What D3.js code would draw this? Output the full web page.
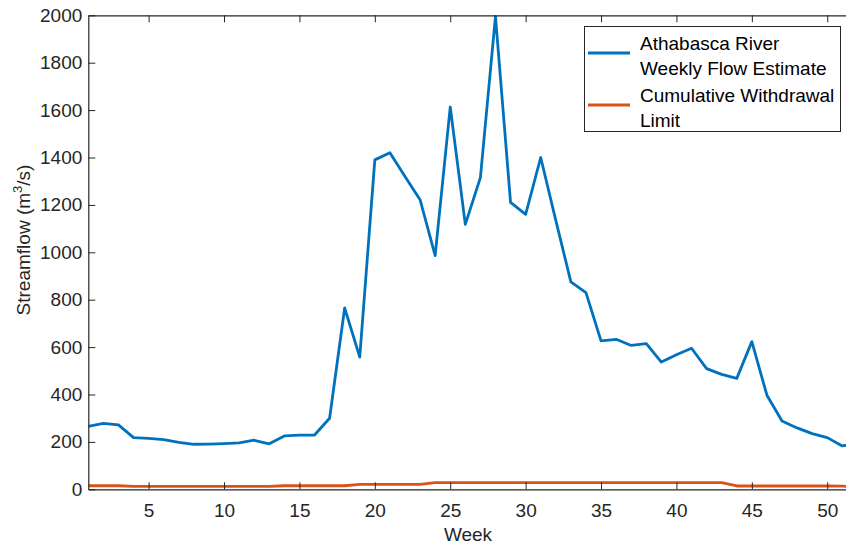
<!DOCTYPE html>
<html><head><meta charset="utf-8">
<script src="https://cdn.jsdelivr.net/npm/d3@7"></script>
<style>body{margin:0;background:#fff}svg{display:block}text{font-family:"Liberation Sans",Arial,sans-serif}</style>
</head><body>
<svg id="c" width="846" height="546"></svg>
<script>
const weeks = d3.range(1, 53);
const flow = [265,278,272,218,215,210,198,190,191,193,196,207,192,225,229,229,300,765,558,1390,
  1420,1320,1222,986,1613,1118,1315,1995,1211,1160,1400,1135,875,830,626,633,607,615,537,568,
  595,509,485,468,623,397,288,259,235,218,183,194];
const limit = [15,15,15,12.5,12.5,12.5,12.5,12.5,12.5,12.5,12.5,12.5,12.5,15,15,15,15,15,21,21,
  21,21,21,28,28,28,28,28,28,28,28,28,28,28,28,28,28,28,28,28,28,28,28,14,14,14,14,14,14,14,13,12];
const xTicks = [5,10,15,20,25,30,35,40,45,50];
const yTicks = [0,200,400,600,800,1000,1200,1400,1600,1800,2000];
const seriesNames = [["Athabasca River","Weekly Flow Estimate"],["Cumulative Withdrawal","Limit"]];
const colors = ["#0072BD","#D95319"];

const svg = d3.select("#c");
const L = 88.3, R = 857.4, T = 15.3, B = 489.3;
const x = d3.scaleLinear().domain([1,52]).range([L,R]);
const y = d3.scaleLinear().domain([0,2000]).range([B,T]);
const axc = "#262626";

svg.append("defs").append("clipPath").attr("id","clip")
  .append("rect").attr("x",L).attr("y",T-2).attr("width",R-L).attr("height",B-T+4);

const line = d3.line().x((d,i)=>x(weeks[i])).y(d=>y(d));
const g = svg.append("g").attr("clip-path","url(#clip)");
g.append("path").datum(limit).attr("d",line).attr("fill","none").attr("stroke",colors[1]).attr("stroke-width",2.8).attr("stroke-linejoin","round");
g.append("path").datum(flow).attr("d",line).attr("fill","none").attr("stroke",colors[0]).attr("stroke-width",2.8).attr("stroke-linejoin","round");

// axes
const fs = 19;
const fmt = d3.format("d");
const xa = svg.append("g").attr("transform",`translate(0,${B})`)
  .call(d3.axisBottom(x).tickValues(xTicks).tickFormat(fmt).tickSizeInner(-7).tickSizeOuter(0).tickPadding(14));
const ya = svg.append("g").attr("transform",`translate(${L},0)`)
  .call(d3.axisLeft(y).tickValues(yTicks).tickFormat(fmt).tickSizeInner(-7).tickSizeOuter(0).tickPadding(6));
const xt = svg.append("g").attr("transform",`translate(0,${T})`)
  .call(d3.axisTop(x).tickValues(xTicks).tickSizeInner(-7).tickSizeOuter(0).tickFormat(""));
[xa,ya,xt].forEach(a=>{
  a.selectAll(".domain").attr("stroke",axc).attr("stroke-width",1.2);
  a.selectAll(".tick line").attr("stroke",axc).attr("stroke-width",1);
  a.selectAll(".tick text").attr("fill",axc).style("font-size",fs+"px").style("font-family","'Liberation Sans',Arial,sans-serif");
});
svg.append("line").attr("x1",R).attr("x2",R).attr("y1",T).attr("y2",B).attr("stroke",axc).attr("stroke-width",1.2);

// axis labels
svg.append("text").attr("x",468).attr("y",541).attr("text-anchor","middle").attr("fill",axc).style("font-size",fs+"px").text("Week");
const yl = svg.append("text").attr("transform",`translate(30,240) rotate(-90)`).attr("text-anchor","middle").attr("fill",axc).style("font-size",fs+"px");
yl.append("tspan").text("Streamflow (m");
yl.append("tspan").attr("dy",-8).style("font-size","13px").text("3");
yl.append("tspan").attr("dy",8).text("/s)");

// legend
const lg = svg.append("g");
lg.append("rect").attr("x",584.5).attr("y",26.5).attr("width",256).attr("height",105).attr("fill","#fff").attr("stroke",axc).attr("stroke-width",1);
seriesNames.forEach((nm,i)=>{
  const cy = 53 + i*52;
  lg.append("line").attr("x1",588).attr("x2",630).attr("y1",cy).attr("y2",cy).attr("stroke",colors[i]).attr("stroke-width",2.8);
  nm.forEach((t,j)=>{
    lg.append("text").attr("x",640).attr("y",cy - 3.5 + j*25).attr("fill","#000").style("font-size",fs+"px").text(t);
  });
});
</script>
</body></html>
